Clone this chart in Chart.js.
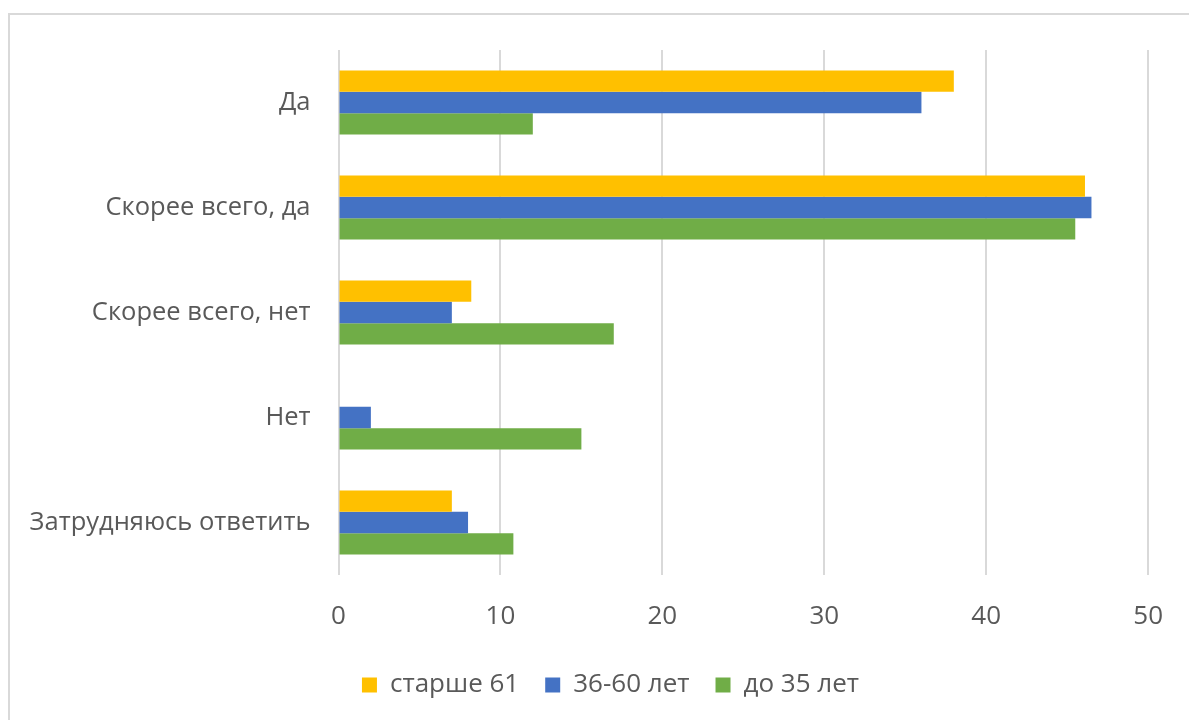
<!DOCTYPE html>
<html lang="ru">
<head>
<meta charset="utf-8">
<title>Ответы по возрастным группам</title>
<script src="https://cdn.jsdelivr.net/npm/chart.js@4.4.1/dist/chart.umd.min.js"></script>
<style>
  html, body { margin: 0; padding: 0; background: #fff; overflow: hidden; }
  .frame {
    position: absolute; left: 8px; top: 13px;
    width: 1200px; height: 720px;
    border: 2px solid #d9d9d9; box-sizing: border-box;
  }
  .wrap { position: absolute; left: 0; top: 0; width: 1189px; height: 720px; }
</style>
</head>
<body>
<div class="frame"></div>
<div class="wrap"><canvas id="chart" width="1189" height="720"></canvas></div>
<script>
const answers = ["Да", "Скорее всего, да", "Скорее всего, нет", "Нет", "Затрудняюсь ответить"];
const groups = ["старше 61", "36-60 лет", "до 35 лет"];
const colors = ["#FFC000", "#4472C4", "#70AD47"];

const older61 = [38, 46.1, 8.2, 0, 7];
const age36to60 = [36, 46.5, 7, 2, 8];
const under35 = [12, 45.5, 17, 15, 10.8];

const xTicks = [0, 10, 20, 30, 40, 50];

const textColor = "#595959";
const fontFamily = "'Open Sans', sans-serif";

// nudge the legend row a little to the right of the canvas centre
const legendShift = {
  id: "legendShift",
  afterLayout: (c) => {
    c.legend.left += 24;
    c.legend.right += 24;
  }
};

const ctx = document.getElementById("chart");
const chart = new Chart(ctx, {
  type: "bar",
  data: {
    labels: answers,
    datasets: [older61, age36to60, under35].map((vals, i) => ({
      label: groups[i],
      data: vals,
      backgroundColor: colors[i],
      borderWidth: 0,
      categoryPercentage: 0.61,
      barPercentage: 1.0
    }))
  },
  options: {
    indexAxis: "y",
    responsive: false,
    animation: false,
    layout: { padding: { left: 20, right: 36, top: 50, bottom: 12 } },
    scales: {
      x: {
        min: 0,
        max: 50,
        afterBuildTicks: (scale) => { scale.ticks = xTicks.map(v => ({ value: v })); },
        afterFit: (scale) => { scale.height = 71; },
        grid: { color: "#d9d9d9", lineWidth: 2, drawTicks: false },
        border: { display: false },
        ticks: { color: textColor, padding: 26, font: { family: fontFamily, size: 26 } }
      },
      y: {
        afterFit: (scale) => { scale.width = 318.5; },
        grid: { display: false, drawTicks: false },
        border: { display: false },
        ticks: { color: textColor, padding: 28, font: { family: fontFamily, size: 25.5 } }
      }
    },
    plugins: {
      legend: {
        position: "bottom",
        labels: {
          boxWidth: 15,
          boxHeight: 15,
          padding: 26,
          color: textColor,
          font: { family: fontFamily, size: 26 }
        }
      },
      tooltip: { enabled: false }
    }
  },
  plugins: [legendShift]
});
</script>
</body>
</html>
